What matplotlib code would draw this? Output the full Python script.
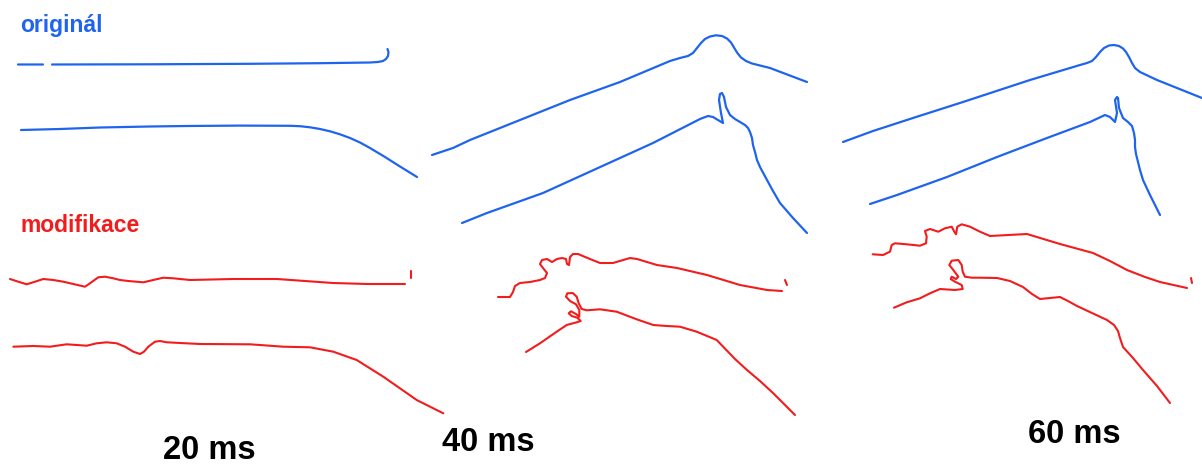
import matplotlib
matplotlib.use("Agg")
import matplotlib.pyplot as plt

# Traced contours (pixel space, y grows downward)
# --- 20 ms ---
orig20_top_x = [18, 43, None, 52, 150, 250, 320, 370, 378, 383, 386, 388, 388.5, 387.5]
orig20_top_y = [64.5, 64.5, None, 64.5, 64.3, 63.8, 63.2, 62.5, 62, 61, 59, 56, 52, 49]
orig20_bot_x = [21, 60, 100, 150, 187, 240, 290, 300, 310, 320, 330, 340, 350, 360, 370, 385, 400, 417]
orig20_bot_y = [130, 129, 127.5, 126.5, 126, 125.6, 125.8, 126.2, 127.3, 129, 131.3, 134.3, 138, 142.5, 148, 157, 166.5, 177]
mod20_top_x = [10, 18.3, 26.7, 35, 43.3, 53.3, 63.3, 73.3, 85, 90, 98.3, 105, 113.3, 120, 128.3, 143.3, 153.3, 163.3, 173.3, 190, 233, 277, 333, 367, 405]
mod20_top_y = [279, 281.7, 284.3, 281.7, 279, 280, 281.7, 284, 286.7, 283.3, 277.3, 276.7, 278.3, 280, 281, 282.3, 280, 277.7, 278.3, 280, 279, 279, 283, 284, 284]
mod20_tick_x = [411, 411]
mod20_tick_y = [271, 278]
mod20_bot_x = [13.3, 33.3, 50, 66.7, 86.7, 96.7, 106.7, 116.7, 125, 133.3, 140, 144, 148.3, 155, 160, 166.7, 200, 250, 283.3, 310, 333.3, 356.7, 383.3, 416.7, 443.3]
mod20_bot_y = [346.7, 346, 346.7, 344.3, 345.7, 343.3, 342.3, 343.3, 346.7, 351.7, 354, 351.7, 346.7, 341.7, 341, 342.3, 344, 344.3, 346.7, 347.3, 351.7, 360, 376.7, 400, 413.3]

# --- 40 ms ---
orig40_top_x = [432, 453, 470, 520, 570, 620, 670, 680, 688, 693, 697, 701, 705, 710, 716, 722, 727, 731, 734, 737, 741, 746, 752, 770, 807]
orig40_top_y = [155, 148, 140, 120, 100, 82, 61, 58, 56, 53, 48, 43, 39, 36.5, 35.3, 36, 38.5, 42.5, 47.5, 52.5, 57.5, 61, 63.5, 68, 82]
orig40_bot_x = [462, 487, 543, 587, 653, 700, 708, 713, 718, 723, 721, 719, 720, 722, 724, 726, 730, 735, 740, 745, 748, 750, 752, 753, 755, 757, 760, 767, 773, 780, 793, 807]
orig40_bot_y = [223, 213, 193, 173, 143, 119, 116, 117, 120, 123, 113, 100, 94, 93, 97, 107, 115, 119, 122, 125, 128, 132, 138, 145, 152, 160, 167, 180, 191, 203, 218, 233]
mod40_top_x = [498, 510, 513, 515, 520, 530, 540, 545, 547, 543, 540, 542, 547, 552, 557, 562, 566, 567, 569, 570, 573, 578, 590, 600, 613, 630, 637, 657, 677, 707, 740, 767, 782]
mod40_top_y = [297, 297, 292, 286, 283, 282, 280, 278, 273, 268, 264, 260, 259, 262, 259, 258, 259, 264, 265, 257, 254, 254, 259, 263, 263, 258, 259, 265, 268, 275, 285, 290, 291]
mod40_tick_x = [785, 787]
mod40_tick_y = [280, 285]
mod40_bot_x = [526, 540, 556.7, 566.7, 576.7, 580.7, 577.3, 571.7, 568.7, 571, 576, 579.3, 579.3, 576, 570, 566, 567.3, 572.7, 576.7, 578.7, 581.7, 586.7, 600, 616.7, 636.7, 653.3, 666.7, 680, 696.7, 716.7, 735, 747, 760, 773, 795]
mod40_bot_y = [352, 343.3, 331.7, 325, 322.3, 321, 317.7, 316, 313.3, 311.3, 314, 316.7, 310, 304.3, 301, 296.7, 293.3, 293, 296.7, 303.3, 309, 310.3, 309.3, 311.7, 319.3, 325, 326, 326.7, 331.7, 340, 359, 370, 381, 393, 415]

# --- 60 ms ---
orig60_top_x = [843, 873, 913, 963, 1030, 1080, 1087, 1092, 1096, 1100, 1104, 1109, 1114, 1119, 1123, 1126, 1129, 1132, 1135, 1140, 1157, 1202]
orig60_top_y = [142, 131, 118, 102, 80, 65, 63, 61, 57, 52, 48, 45.5, 45, 46, 48.5, 52, 57, 63, 68, 72, 80, 98]
orig60_bot_x = [870, 897, 947, 997, 1047, 1090, 1105, 1110, 1115, 1117, 1115, 1117, 1118, 1119, 1123, 1128, 1132, 1134, 1135, 1135, 1136, 1138, 1140, 1143, 1150, 1160]
orig60_bot_y = [204, 195, 177, 157, 138, 122, 115, 117, 122, 113, 100, 97, 98, 108, 118, 122, 126, 133, 140, 147, 154, 162, 170, 180, 195, 215]
mod60_top_x = [872.7, 883, 890, 891.7, 895, 906.7, 920, 926, 926.7, 925, 930, 938.3, 945, 951.7, 954.3, 956, 957.3, 961.7, 970, 980, 990, 1027, 1060, 1093, 1110, 1127, 1145, 1160, 1187]
mod60_top_y = [254.3, 255, 251.7, 245, 243.3, 244.3, 245.7, 243.3, 236.7, 231, 229, 231.7, 228.3, 226.7, 231.7, 234.3, 226.7, 224.3, 226.7, 231.7, 236, 234, 244, 253, 261, 270, 277, 282, 288]
mod60_tick_x = [1191, 1192]
mod60_tick_y = [278, 283]
mod60_bot_x = [894, 906.7, 920, 930, 940, 955, 962.7, 961.7, 955, 950.7, 951.7, 956, 958.3, 953.3, 949.3, 951.7, 958.3, 961.7, 962.7, 965, 971.7, 980, 997, 1010, 1023, 1032, 1040, 1050, 1060, 1068, 1077, 1092, 1107, 1114, 1118, 1120, 1123, 1133, 1143, 1157, 1170]
mod60_bot_y = [307.7, 302.3, 298.3, 293.3, 289, 290, 289, 285, 281.7, 279, 276.7, 279, 276.7, 270, 265, 260.7, 260, 265, 271.7, 276.7, 277.7, 277.7, 278, 281, 287, 294, 299, 298, 297, 301, 306, 313, 320, 325, 331, 338, 347, 358, 370, 386, 403]

blue_traces = [
    (orig20_top_x, orig20_top_y), (orig20_bot_x, orig20_bot_y),
    (orig40_top_x, orig40_top_y), (orig40_bot_x, orig40_bot_y),
    (orig60_top_x, orig60_top_y), (orig60_bot_x, orig60_bot_y),
]
red_traces = [
    (mod20_top_x, mod20_top_y), (mod20_tick_x, mod20_tick_y), (mod20_bot_x, mod20_bot_y),
    (mod40_top_x, mod40_top_y), (mod40_tick_x, mod40_tick_y), (mod40_bot_x, mod40_bot_y),
    (mod60_top_x, mod60_top_y), (mod60_tick_x, mod60_tick_y), (mod60_bot_x, mod60_bot_y),
]

time_labels = ["20 ms", "40 ms", "60 ms"]
time_label_x = [209, 488, 1074]
time_label_baseline = [459, 451, 443]

BLUE = "#1e64ee"
RED = "#f21c1c"


def as_float(seq):
    return [float("nan") if v is None else v for v in seq]


fig = plt.figure(figsize=(12.02, 4.66), dpi=100)
ax = fig.add_axes([0, 0, 1, 1])
ax.set_xlim(0, 1202)
ax.set_ylim(466, 0)
ax.axis("off")

for xs, ys in blue_traces:
    ax.plot(as_float(xs), as_float(ys), color=BLUE, lw=1.6,
            solid_joinstyle="round", solid_capstyle="round")
for xs, ys in red_traces:
    ax.plot(as_float(xs), as_float(ys), color=RED, lw=1.5,
            solid_joinstyle="round", solid_capstyle="round")

ax.text(20, 32, "originál", color=BLUE, fontsize=16.5, fontweight="bold",
        family="Liberation Sans", ha="left", va="baseline")
ax.text(20, 232, "modifikace", color=RED, fontsize=16.5, fontweight="bold",
        family="Liberation Sans", ha="left", va="baseline")

for label, lx, ly in zip(time_labels, time_label_x, time_label_baseline):
    ax.text(lx, ly, label, color="black", fontsize=23.5, fontweight="bold",
            family="Liberation Sans", ha="center", va="baseline")

fig.savefig("out.png", dpi=100)
